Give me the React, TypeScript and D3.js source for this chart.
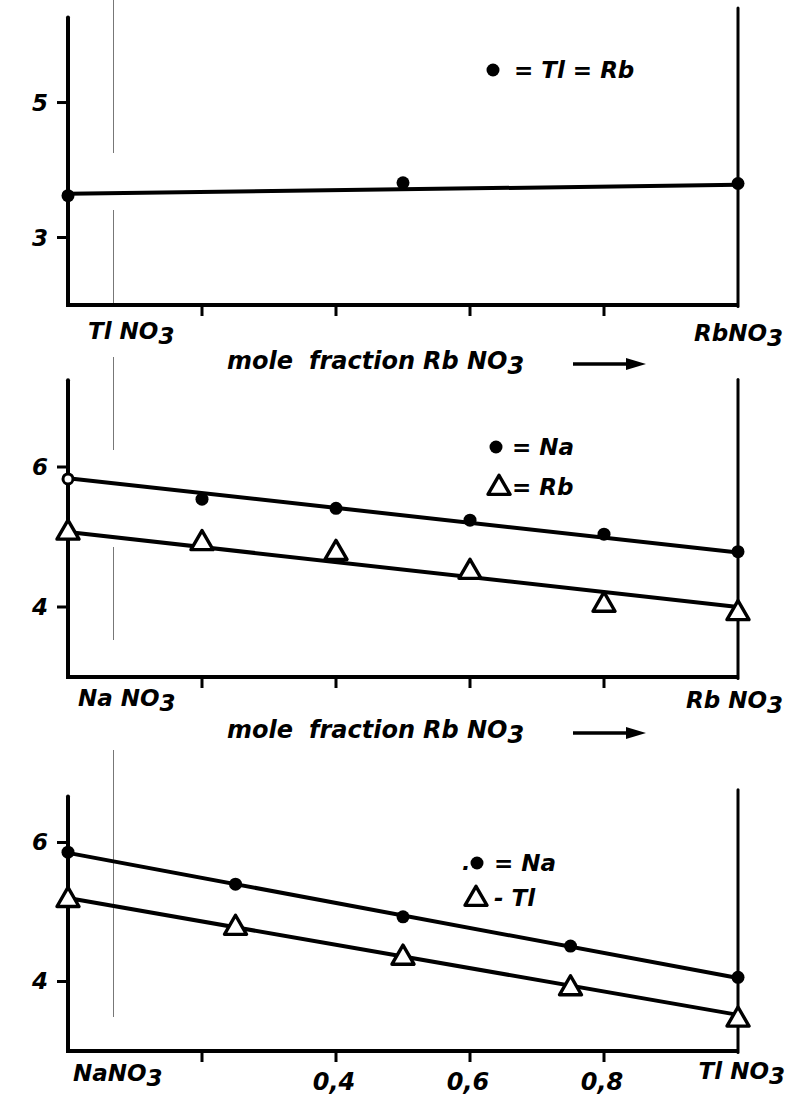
import React from "react";
import * as d3 from "d3";

// ---------- data ----------
const xTicks = [0.2, 0.4, 0.6, 0.8];

// Panel 1: TlNO3 - RbNO3
const p1X = [0, 0.5, 1];
const p1Tl = [3.62, 3.81, 3.8];
const p1FitX = [0, 1];
const p1Fit = [3.65, 3.78];
const p1YTicks = [3, 5];

// Panel 2: NaNO3 - RbNO3
const p2X = [0, 0.2, 0.4, 0.6, 0.8, 1];
const p2Na = [5.83, 5.54, 5.41, 5.24, 5.04, 4.79];
const p2Rb = [5.06, 4.91, 4.77, 4.5, 4.03, 3.91];
const p2FitX = [0, 1];
const p2NaFit = [5.84, 4.78];
const p2RbFit = [5.07, 4.0];
const p2YTicks = [4, 6];

// Panel 3: NaNO3 - TlNO3
const p3X = [0, 0.25, 0.5, 0.75, 1];
const p3Na = [5.86, 5.4, 4.93, 4.51, 4.06];
const p3Tl = [5.17, 4.77, 4.34, 3.9, 3.45];
const p3FitX = [0, 1];
const p3NaFit = [5.85, 4.05];
const p3TlFit = [5.2, 3.52];
const p3YTicks = [4, 6];
const p3XTickLabels = ["", "0,4", "0,6", "0,8"];

// ---------- styles ----------
const FONT = "'DejaVu Sans', 'Open Sans', sans-serif";
const INK = "#000";

const xScale = d3.scaleLinear().domain([0, 1]).range([68, 738]);
const y1 = d3.scaleLinear().domain([2, 6.26]).range([305, 17.5]);
const y2 = d3.scaleLinear().domain([3, 7.3]).range([677, 376]);
const y3 = d3.scaleLinear().domain([3, 6.66]).range([1051, 796.6]);

const triPath = d3.symbol(d3.symbolTriangle, 210)() as string;

const txt = {
  fontFamily: FONT,
  fontWeight: 700,
  fontStyle: "italic",
  fill: INK,
} as const;

function Chem({ x, y, a, anchor = "start", size = 23 }: any) {
  return (
    <text x={x} y={y} fontSize={size} textAnchor={anchor} style={txt}>
      <tspan>{a}</tspan>
      <tspan dy={5}>3</tspan>
    </text>
  );
}

function Frame({ y, top, rightTop, yTicks }: any) {
  const [d0] = y.domain();
  const x0 = xScale(0);
  const x1 = xScale(1);
  return (
    <g>
      <line x1={x0} x2={x0} y1={y(d0)} y2={y(top)} stroke={INK} strokeWidth={4} strokeLinecap="round" />
      <line x1={x0 - 2} x2={x1} y1={y(d0)} y2={y(d0)} stroke={INK} strokeWidth={4} />
      <line x1={x1} x2={x1} y1={y(d0) + 1.5} y2={y(rightTop)} stroke={INK} strokeWidth={3} strokeLinecap="round" />
      {xTicks.map((t) => (
        <line key={t} x1={xScale(t)} x2={xScale(t)} y1={y(d0)} y2={y(d0) + 11} stroke={INK} strokeWidth={3} />
      ))}
      {yTicks.map((t: number) => (
        <g key={t}>
          <line x1={x0 - 11} x2={x0} y1={y(t)} y2={y(t)} stroke={INK} strokeWidth={3} />
          <text x={48} y={y(t) + 8} fontSize={23} textAnchor="end" style={txt}>
            {t}
          </text>
        </g>
      ))}
    </g>
  );
}

function FitLine({ y, xs, ys }: any) {
  const line = d3
    .line<number>()
    .x((_, i) => xScale(xs[i]))
    .y((v) => y(v));
  return <path d={line(ys) as string} fill="none" stroke={INK} strokeWidth={4} />;
}

function Dots({ y, xs, ys, openFirst = false }: any) {
  return (
    <g>
      {ys.map((v: number, i: number) => (
        <circle
          key={i}
          cx={xScale(xs[i])}
          cy={y(v)}
          r={openFirst && i === 0 ? 5 : 6.5}
          fill={openFirst && i === 0 ? "#fff" : INK}
          stroke={INK}
          strokeWidth={openFirst && i === 0 ? 3 : 0}
        />
      ))}
    </g>
  );
}

function Tris({ y, xs, ys }: any) {
  return (
    <g>
      {ys.map((v: number, i: number) => (
        <path
          key={i}
          d={triPath}
          transform={`translate(${xScale(xs[i])},${y(v)})`}
          fill="#fff"
          stroke={INK}
          strokeWidth={3.4}
          strokeLinejoin="round"
        />
      ))}
    </g>
  );
}

function MoleLabel({ y }: any) {
  return (
    <g>
      <text x={227} y={y} fontSize={24} style={txt}>
        <tspan>mole</tspan>
        <tspan dx={16}>fraction</tspan>
        <tspan dx={8}>Rb NO</tspan>
        <tspan dy={5}>3</tspan>
      </text>
      <line x1={573} x2={630} y1={y - 5} y2={y - 5} stroke={INK} strokeWidth={3.5} />
      <path d={`M626,${y - 11} L646,${y - 5} L626,${y + 1} Z`} fill={INK} />
    </g>
  );
}

// faint scanning artefact (vertical hairline)
const scanSegments = [
  [0, 153],
  [210, 305],
  [357, 450],
  [547, 640],
  [750, 1017],
];

export default function App() {
  return (
    <svg
      width={787}
      height={1113}
      viewBox="0 0 787 1113"
      style={{ position: "absolute", left: 0, top: 0, background: "#fff", display: "block" }}
    >
      <rect width={787} height={1113} fill="#fff" />
      {scanSegments.map(([a, b], i) => (
        <line key={i} x1={113.5} x2={113.5} y1={a} y2={b} stroke="#777" strokeWidth={1} />
      ))}

      {/* Panel 1 */}
      <Frame y={y1} top={6.26} rightTop={6.4} yTicks={p1YTicks} />
      <FitLine y={y1} xs={p1FitX} ys={p1Fit} />
      <Dots y={y1} xs={p1X} ys={p1Tl} />
      <circle cx={493} cy={70} r={6.5} fill={INK} />
      <text x={514} y={78} fontSize={23} style={txt}>
        = Tl = Rb
      </text>
      <Chem x={88} y={339} a="Tl NO" />
      <Chem x={783} y={341} a="RbNO" anchor="end" />
      <MoleLabel y={369} />

      {/* Panel 2 */}
      <Frame y={y2} top={7.24} rightTop={7.25} yTicks={p2YTicks} />
      <FitLine y={y2} xs={p2FitX} ys={p2NaFit} />
      <FitLine y={y2} xs={p2FitX} ys={p2RbFit} />
      <Dots y={y2} xs={p2X} ys={p2Na} openFirst />
      <Tris y={y2} xs={p2X} ys={p2Rb} />
      <circle cx={496} cy={447} r={6.5} fill={INK} />
      <text x={512} y={455} fontSize={23} style={txt}>
        = Na
      </text>
      <path d={triPath} transform="translate(499,488)" fill="#fff" stroke={INK} strokeWidth={3.4} strokeLinejoin="round" />
      <text x={512} y={495} fontSize={23} style={txt}>
        = Rb
      </text>
      <Chem x={78} y={706} a="Na NO" />
      <Chem x={783} y={708} a="Rb NO" anchor="end" />
      <MoleLabel y={738} />

      {/* Panel 3 */}
      <Frame y={y3} top={6.66} rightTop={6.76} yTicks={p3YTicks} />
      <FitLine y={y3} xs={p3FitX} ys={p3NaFit} />
      <FitLine y={y3} xs={p3FitX} ys={p3TlFit} />
      <Dots y={y3} xs={p3X} ys={p3Na} />
      <Tris y={y3} xs={p3X} ys={p3Tl} />
      <text x={462} y={870} fontSize={22} style={txt}>.</text>
      <circle cx={477} cy={863} r={6.5} fill={INK} />
      <text x={494} y={871} fontSize={23} style={txt}>
        = Na
      </text>
      <path d={triPath} transform="translate(476,899)" fill="#fff" stroke={INK} strokeWidth={3.4} strokeLinejoin="round" />
      <text x={494} y={906} fontSize={23} style={txt}>
        - Tl
      </text>
      {xTicks.map((t, i) =>
        p3XTickLabels[i] ? (
          <text key={t} x={xScale(t) - 2} y={1090} fontSize={24} textAnchor="middle" style={txt}>
            {p3XTickLabels[i]}
          </text>
        ) : null
      )}
      <Chem x={73} y={1081} a="NaNO" />
      <Chem x={785} y={1079} a="Tl NO" anchor="end" />
    </svg>
  );
}
